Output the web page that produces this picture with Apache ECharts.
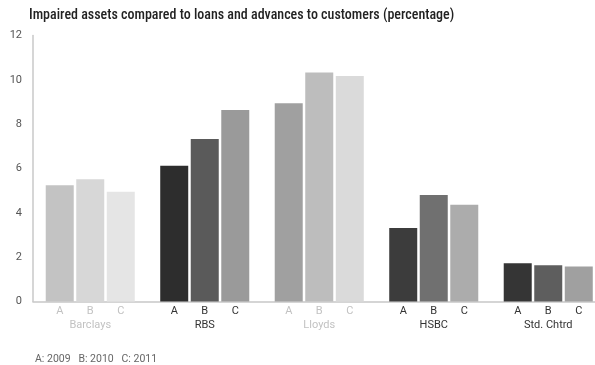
<!DOCTYPE html>
<html>
<head>
<meta charset="utf-8">
<script src="https://cdn.jsdelivr.net/npm/echarts@6/dist/echarts.min.js"></script>
<style>html,body{margin:0;padding:0;background:#fff;}#c{width:595px;height:365px;}</style>
</head>
<body>
<div id="c"></div>
<script>
var categories = ['Barclays', 'RBS', 'Lloyds', 'HSBC', 'Std. Chtrd'];
var seriesNames = ['A', 'B', 'C'];
var valuesA = [5.25, 6.12, 8.94, 3.32, 1.72];
var valuesB = [5.52, 7.33, 10.33, 4.80, 1.64];
var valuesC = [4.95, 8.64, 10.17, 4.36, 1.58];
var yTicks = [0, 2, 4, 6, 8, 10, 12];
var titleText = 'Impaired assets compared to loans and advances to customers (percentage)';
var footnote = 'A: 2009   B: 2010   C: 2011';

var barColors = [
  ['#c3c3c3', '#2d2d2d', '#a0a0a0', '#3c3c3c', '#353535'],
  ['#d7d7d7', '#5a5a5a', '#bdbdbd', '#707070', '#5e5e5e'],
  ['#e5e5e5', '#9a9a9a', '#dadada', '#acacac', '#a0a0a0']
];
var labelColors = ['#c2c2c2', '#333333', '#c2c2c2', '#333333', '#333333'];
var fontFam = 'Roboto, "Liberation Sans", sans-serif';
var titleFam = '"Roboto Condensed", "Liberation Sans Narrow", Roboto, sans-serif';

var allValues = [valuesA, valuesB, valuesC];
var series = seriesNames.map(function (name, s) {
  return {
    name: name,
    type: 'bar',
    barWidth: 28,
    barGap: '9%',
    data: allValues[s].map(function (v, i) {
      return {
        value: v,
        itemStyle: { color: barColors[s][i] },
        label: { color: labelColors[i] }
      };
    }),
    label: {
      show: true,
      position: 'bottom',
      distance: 4,
      formatter: name,
      fontSize: 11,
      fontFamily: fontFam
    },
    emphasis: { disabled: true }
  };
});

var rich = {};
categories.forEach(function (c, i) {
  rich['c' + i] = { color: labelColors[i], fontSize: 11, fontFamily: fontFam };
});

var chart = echarts.init(document.getElementById('c'), null, { renderer: 'canvas' });
chart.setOption({
  animation: false,
  backgroundColor: '#ffffff',
  graphic: [{
    type: 'text', x: 29, y: 8,
    style: { text: titleText, fontSize: 14, fontWeight: 500, fontFamily: titleFam, fill: '#222', textVerticalAlign: 'top' }
  }, {
    type: 'text', x: 35, y: 354,
    style: { text: footnote, fontSize: 10.5, fontFamily: fontFam, fill: '#666', textVerticalAlign: 'top' }
  }],
  grid: { left: 33, top: 35.5, width: 572.5, bottom: 63.5, containLabel: false, outerBoundsMode: 'none' },
  xAxis: {
    type: 'category',
    data: categories,
    axisLine: { show: true, lineStyle: { color: '#c8c8c8', width: 1.5 } },
    axisTick: { show: false },
    axisLabel: {
      margin: 18,
      formatter: function (val, idx) { return '{c' + idx + '|' + val + '}'; },
      rich: rich
    }
  },
  yAxis: {
    type: 'value',
    min: yTicks[0], max: yTicks[yTicks.length - 1], interval: 2,
    axisLine: { show: true, lineStyle: { color: '#c8c8c8', width: 1.5 } },
    axisTick: { show: false },
    splitLine: { show: false },
    axisLabel: { color: '#555', fontSize: 11, margin: 11, fontFamily: fontFam }
  },
  series: series
});
</script>
</body>
</html>
